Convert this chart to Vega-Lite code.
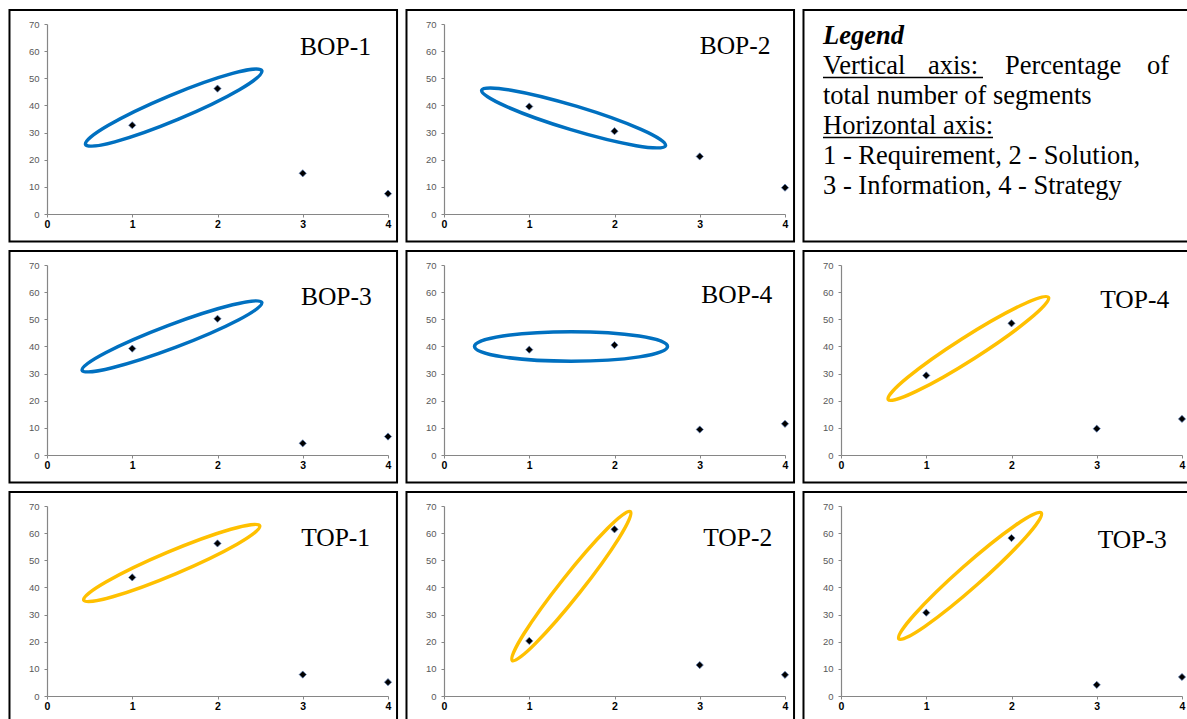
{
  "$schema": "https://vega.github.io/schema/vega-lite/v6.json",
  "padding": {"left": 8, "top": 8, "right": 0, "bottom": 0},
  "background": "white",
  "datasets": {
    "points": [
      {"project": "BOP-1", "category": 1, "percentage": 32.7},
      {"project": "BOP-1", "category": 2, "percentage": 46.2},
      {"project": "BOP-1", "category": 3, "percentage": 15.0},
      {"project": "BOP-1", "category": 4, "percentage": 7.5},
      {"project": "BOP-2", "category": 1, "percentage": 39.6},
      {"project": "BOP-2", "category": 2, "percentage": 30.5},
      {"project": "BOP-2", "category": 3, "percentage": 21.2},
      {"project": "BOP-2", "category": 4, "percentage": 9.7},
      {"project": "BOP-3", "category": 1, "percentage": 39.2},
      {"project": "BOP-3", "category": 2, "percentage": 50.2},
      {"project": "BOP-3", "category": 3, "percentage": 4.3},
      {"project": "BOP-3", "category": 4, "percentage": 6.8},
      {"project": "BOP-4", "category": 1, "percentage": 38.8},
      {"project": "BOP-4", "category": 2, "percentage": 40.5},
      {"project": "BOP-4", "category": 3, "percentage": 9.4},
      {"project": "BOP-4", "category": 4, "percentage": 11.5},
      {"project": "TOP-4", "category": 1, "percentage": 29.3},
      {"project": "TOP-4", "category": 2, "percentage": 48.5},
      {"project": "TOP-4", "category": 3, "percentage": 9.7},
      {"project": "TOP-4", "category": 4, "percentage": 13.3},
      {"project": "TOP-1", "category": 1, "percentage": 43.7},
      {"project": "TOP-1", "category": 2, "percentage": 56.2},
      {"project": "TOP-1", "category": 3, "percentage": 7.9},
      {"project": "TOP-1", "category": 4, "percentage": 5.1},
      {"project": "TOP-2", "category": 1, "percentage": 20.3},
      {"project": "TOP-2", "category": 2, "percentage": 61.4},
      {"project": "TOP-2", "category": 3, "percentage": 11.4},
      {"project": "TOP-2", "category": 4, "percentage": 7.8},
      {"project": "TOP-3", "category": 1, "percentage": 30.7},
      {"project": "TOP-3", "category": 2, "percentage": 58.2},
      {"project": "TOP-3", "category": 3, "percentage": 4.1},
      {"project": "TOP-3", "category": 4, "percentage": 7.0}
    ],
    "panels": [
      {"project": "BOP-1"}, {"project": "BOP-2"}, {"project": "BOP-3"}, {"project": "BOP-4"},
      {"project": "TOP-1"}, {"project": "TOP-2"}, {"project": "TOP-3"}, {"project": "TOP-4"},
      {"project": "Legend"}
    ],
    "legend": [
      {"line": 1, "word": 1, "text": "Legend"},
      {"line": 2, "word": 1, "text": "Vertical"},
      {"line": 2, "word": 2, "text": "axis:"},
      {"line": 2, "word": 3, "text": "Percentage"},
      {"line": 2, "word": 4, "text": "of"},
      {"line": 3, "word": 1, "text": "total number of segments"},
      {"line": 4, "word": 1, "text": "Horizontal axis:"},
      {"line": 5, "word": 1, "text": "1 - Requirement, 2 - Solution,"},
      {"line": 6, "word": 1, "text": "3 - Information, 4 - Strategy"}
    ],
    "underlines": [
      {"line": 2, "from": 1, "to": 5},
      {"line": 4, "from": 1, "to": 6}
    ]
  },
  "spacing": 6,
  "vconcat": [
    {
      "spacing": 6,
      "hconcat": [
        {
          "width": 341, "height": 190,
          "layer": [
            {"data": {"name": "panels"}, "transform": [{"filter": "datum.project === 'BOP-1'"}],
             "mark": {"type": "rect", "fill": "transparent", "stroke": "#000000", "strokeWidth": 2},
             "encoding": {"x": {"datum": -0.44, "type": "quantitative", "scale": {"domain": [0, 4], "nice": false}, "axis": {"values": [0, 1, 2, 3, 4], "format": "d", "title": null}}, "x2": {"datum": 4.106},
                          "y": {"datum": -10.1, "type": "quantitative", "scale": {"domain": [0, 70], "nice": false}, "axis": {"values": [0, 10, 20, 30, 40, 50, 60, 70], "format": "d", "title": null}}, "y2": {"datum": 75.2}}},
            {"data": {"name": "panels"}, "transform": [{"filter": "datum.project === 'BOP-1'"}],
             "mark": {"type": "point", "shape": "M-1,0C-1,-0.0724,-0.5523,-0.131,0,-0.131C0.5523,-0.131,1,-0.0724,1,0C1,0.0724,0.5523,0.131,0,0.131C-0.5523,0.131,-1,0.0724,-1,0Z", "filled": false, "color": "#0070C0", "stroke": "#0070C0", "strokeWidth": 3.5, "opacity": 1, "size": 36481, "angle": 337.3},
             "encoding": {"x": {"datum": 1.486, "type": "quantitative", "scale": {"domain": [0, 4], "nice": false}, "axis": {"values": [0, 1, 2, 3, 4], "format": "d", "title": null}},
                          "y": {"datum": 39.2, "type": "quantitative", "scale": {"domain": [0, 70], "nice": false}, "axis": {"values": [0, 10, 20, 30, 40, 50, 60, 70], "format": "d", "title": null}}}},
            {"data": {"name": "points"}, "transform": [{"filter": "datum.project === 'BOP-1'"}],
             "mark": {"type": "point", "shape": "diamond", "filled": true, "fill": "#000000", "stroke": "#5a7db8", "strokeWidth": 0.7, "size": 52, "opacity": 1},
             "encoding": {"x": {"field": "category", "type": "quantitative", "scale": {"domain": [0, 4], "nice": false}, "axis": {"values": [0, 1, 2, 3, 4], "format": "d", "title": null}},
                          "y": {"field": "percentage", "type": "quantitative", "scale": {"domain": [0, 70], "nice": false}, "axis": {"values": [0, 10, 20, 30, 40, 50, 60, 70], "format": "d", "title": null}}}},
            {"data": {"name": "panels"}, "transform": [{"filter": "datum.project === 'BOP-1'"}],
             "mark": {"type": "text", "align": "right", "baseline": "alphabetic", "font": "Liberation Serif", "fontSize": 25.5, "color": "#000000"},
             "encoding": {"x": {"datum": 3.80, "type": "quantitative", "scale": {"domain": [0, 4], "nice": false}, "axis": {"values": [0, 1, 2, 3, 4], "format": "d", "title": null}},
                          "y": {"datum": 58.6, "type": "quantitative", "scale": {"domain": [0, 70], "nice": false}, "axis": {"values": [0, 10, 20, 30, 40, 50, 60, 70], "format": "d", "title": null}},
                          "text": {"field": "project"}}}
          ]
        },
        {
          "width": 341, "height": 190,
          "layer": [
            {"data": {"name": "panels"}, "transform": [{"filter": "datum.project === 'BOP-2'"}],
             "mark": {"type": "rect", "fill": "transparent", "stroke": "#000000", "strokeWidth": 2},
             "encoding": {"x": {"datum": -0.44, "type": "quantitative", "scale": {"domain": [0, 4], "nice": false}, "axis": {"values": [0, 1, 2, 3, 4], "format": "d", "title": null}}, "x2": {"datum": 4.106},
                          "y": {"datum": -10.1, "type": "quantitative", "scale": {"domain": [0, 70], "nice": false}, "axis": {"values": [0, 10, 20, 30, 40, 50, 60, 70], "format": "d", "title": null}}, "y2": {"datum": 75.2}}},
            {"data": {"name": "panels"}, "transform": [{"filter": "datum.project === 'BOP-2'"}],
             "mark": {"type": "point", "shape": "M-1,0C-1,-0.069,-0.5523,-0.125,0,-0.125C0.5523,-0.125,1,-0.069,1,0C1,0.069,0.5523,0.125,0,0.125C-0.5523,0.125,-1,0.069,-1,0Z", "filled": false, "color": "#0070C0", "stroke": "#0070C0", "strokeWidth": 3.5, "opacity": 1, "size": 36864, "angle": 16.8},
             "encoding": {"x": {"datum": 1.52, "type": "quantitative", "scale": {"domain": [0, 4], "nice": false}, "axis": {"values": [0, 1, 2, 3, 4], "format": "d", "title": null}},
                          "y": {"datum": 35.4, "type": "quantitative", "scale": {"domain": [0, 70], "nice": false}, "axis": {"values": [0, 10, 20, 30, 40, 50, 60, 70], "format": "d", "title": null}}}},
            {"data": {"name": "points"}, "transform": [{"filter": "datum.project === 'BOP-2'"}],
             "mark": {"type": "point", "shape": "diamond", "filled": true, "fill": "#000000", "stroke": "#5a7db8", "strokeWidth": 0.7, "size": 52, "opacity": 1},
             "encoding": {"x": {"field": "category", "type": "quantitative", "scale": {"domain": [0, 4], "nice": false}, "axis": {"values": [0, 1, 2, 3, 4], "format": "d", "title": null}},
                          "y": {"field": "percentage", "type": "quantitative", "scale": {"domain": [0, 70], "nice": false}, "axis": {"values": [0, 10, 20, 30, 40, 50, 60, 70], "format": "d", "title": null}}}},
            {"data": {"name": "panels"}, "transform": [{"filter": "datum.project === 'BOP-2'"}],
             "mark": {"type": "text", "align": "right", "baseline": "alphabetic", "font": "Liberation Serif", "fontSize": 25.5, "color": "#000000"},
             "encoding": {"x": {"datum": 3.83, "type": "quantitative", "scale": {"domain": [0, 4], "nice": false}, "axis": {"values": [0, 1, 2, 3, 4], "format": "d", "title": null}},
                          "y": {"datum": 59.1, "type": "quantitative", "scale": {"domain": [0, 70], "nice": false}, "axis": {"values": [0, 10, 20, 30, 40, 50, 60, 70], "format": "d", "title": null}},
                          "text": {"field": "project"}}}
          ]
        },
        {
          "width": 341, "height": 190,
          "resolve": {"scale": {"x": "independent", "y": "independent"}, "axis": {"x": "independent", "y": "independent"}},
          "layer": [
            {"data": {"name": "panels"}, "transform": [{"filter": "datum.project === 'Legend'"}],
             "mark": {"type": "rect", "fill": "transparent", "stroke": "#000000", "strokeWidth": 2},
             "encoding": {"x": {"datum": -0.44, "type": "quantitative", "scale": {"domain": [0, 4], "nice": false}, "axis": null}, "x2": {"datum": 4.106},
                          "y": {"datum": -10.1, "type": "quantitative", "scale": {"domain": [0, 70], "nice": false}, "axis": null}, "y2": {"datum": 75.2}}},
            {"data": {"name": "legend"},
             "layer": [
               {"transform": [{"filter": "datum.line === 1"}],
                "mark": {"type": "text", "align": "left", "baseline": "alphabetic", "font": "Liberation Serif", "fontSize": 26.5, "fontWeight": "bold", "fontStyle": "italic", "color": "#000000"},
                "encoding": {"x": {"field": "word", "type": "quantitative", "scale": {"domain": [1, 2, 3, 4, 5, 6], "range": [-18, 87, 164, 306, 142, 152], "nice": false, "zero": false}, "axis": null},
                             "y": {"field": "line", "type": "quantitative", "scale": {"domain": [1, 6], "range": [19.5, 169.5], "nice": false, "zero": false}, "axis": null},
                             "text": {"field": "text"}}},
               {"transform": [{"filter": "datum.line > 1"}],
                "mark": {"type": "text", "align": "left", "baseline": "alphabetic", "font": "Liberation Serif", "fontSize": 26.5, "color": "#000000"},
                "encoding": {"x": {"field": "word", "type": "quantitative", "scale": {"domain": [1, 2, 3, 4, 5, 6], "range": [-18, 87, 164, 306, 142, 152], "nice": false, "zero": false}, "axis": null},
                             "y": {"field": "line", "type": "quantitative", "scale": {"domain": [1, 6], "range": [19.5, 169.5], "nice": false, "zero": false}, "axis": null},
                             "text": {"field": "text"}}},
               {"data": {"name": "underlines"},
                "mark": {"type": "rule", "color": "#000000", "strokeWidth": 1.6, "yOffset": 4},
                "encoding": {"x": {"field": "from", "type": "quantitative", "scale": {"domain": [1, 2, 3, 4, 5, 6], "range": [-18, 87, 164, 306, 142, 152], "nice": false, "zero": false}, "axis": null},
                             "x2": {"field": "to"},
                             "y": {"field": "line", "type": "quantitative", "scale": {"domain": [1, 6], "range": [19.5, 169.5], "nice": false, "zero": false}, "axis": null}}}
             ]}
          ]
        }
      ]
    },
    {
      "spacing": 6,
      "hconcat": [
        {
          "width": 341, "height": 190,
          "layer": [
            {"data": {"name": "panels"}, "transform": [{"filter": "datum.project === 'BOP-3'"}],
             "mark": {"type": "rect", "fill": "transparent", "stroke": "#000000", "strokeWidth": 2},
             "encoding": {"x": {"datum": -0.44, "type": "quantitative", "scale": {"domain": [0, 4], "nice": false}, "axis": {"values": [0, 1, 2, 3, 4], "format": "d", "title": null}}, "x2": {"datum": 4.106},
                          "y": {"datum": -10.1, "type": "quantitative", "scale": {"domain": [0, 70], "nice": false}, "axis": {"values": [0, 10, 20, 30, 40, 50, 60, 70], "format": "d", "title": null}}, "y2": {"datum": 75.2}}},
            {"data": {"name": "panels"}, "transform": [{"filter": "datum.project === 'BOP-3'"}],
             "mark": {"type": "point", "shape": "M-1,0C-1,-0.0663,-0.5523,-0.12,0,-0.12C0.5523,-0.12,1,-0.0663,1,0C1,0.0663,0.5523,0.12,0,0.12C-0.5523,0.12,-1,0.0663,-1,0Z", "filled": false, "color": "#0070C0", "stroke": "#0070C0", "strokeWidth": 3.5, "opacity": 1, "size": 36864, "angle": 339.3},
             "encoding": {"x": {"datum": 1.466, "type": "quantitative", "scale": {"domain": [0, 4], "nice": false}, "axis": {"values": [0, 1, 2, 3, 4], "format": "d", "title": null}},
                          "y": {"datum": 43.7, "type": "quantitative", "scale": {"domain": [0, 70], "nice": false}, "axis": {"values": [0, 10, 20, 30, 40, 50, 60, 70], "format": "d", "title": null}}}},
            {"data": {"name": "points"}, "transform": [{"filter": "datum.project === 'BOP-3'"}],
             "mark": {"type": "point", "shape": "diamond", "filled": true, "fill": "#000000", "stroke": "#5a7db8", "strokeWidth": 0.7, "size": 52, "opacity": 1},
             "encoding": {"x": {"field": "category", "type": "quantitative", "scale": {"domain": [0, 4], "nice": false}, "axis": {"values": [0, 1, 2, 3, 4], "format": "d", "title": null}},
                          "y": {"field": "percentage", "type": "quantitative", "scale": {"domain": [0, 70], "nice": false}, "axis": {"values": [0, 10, 20, 30, 40, 50, 60, 70], "format": "d", "title": null}}}},
            {"data": {"name": "panels"}, "transform": [{"filter": "datum.project === 'BOP-3'"}],
             "mark": {"type": "text", "align": "right", "baseline": "alphabetic", "font": "Liberation Serif", "fontSize": 25.5, "color": "#000000"},
             "encoding": {"x": {"datum": 3.81, "type": "quantitative", "scale": {"domain": [0, 4], "nice": false}, "axis": {"values": [0, 1, 2, 3, 4], "format": "d", "title": null}},
                          "y": {"datum": 55.2, "type": "quantitative", "scale": {"domain": [0, 70], "nice": false}, "axis": {"values": [0, 10, 20, 30, 40, 50, 60, 70], "format": "d", "title": null}},
                          "text": {"field": "project"}}}
          ]
        },
        {
          "width": 341, "height": 190,
          "layer": [
            {"data": {"name": "panels"}, "transform": [{"filter": "datum.project === 'BOP-4'"}],
             "mark": {"type": "rect", "fill": "transparent", "stroke": "#000000", "strokeWidth": 2},
             "encoding": {"x": {"datum": -0.44, "type": "quantitative", "scale": {"domain": [0, 4], "nice": false}, "axis": {"values": [0, 1, 2, 3, 4], "format": "d", "title": null}}, "x2": {"datum": 4.106},
                          "y": {"datum": -10.1, "type": "quantitative", "scale": {"domain": [0, 70], "nice": false}, "axis": {"values": [0, 10, 20, 30, 40, 50, 60, 70], "format": "d", "title": null}}, "y2": {"datum": 75.2}}},
            {"data": {"name": "panels"}, "transform": [{"filter": "datum.project === 'BOP-4'"}],
             "mark": {"type": "point", "shape": "M-1,0C-1,-0.0845,-0.5523,-0.153,0,-0.153C0.5523,-0.153,1,-0.0845,1,0C1,0.0845,0.5523,0.153,0,0.153C-0.5523,0.153,-1,0.0845,-1,0Z", "filled": false, "color": "#0070C0", "stroke": "#0070C0", "strokeWidth": 3.5, "opacity": 1, "size": 37249, "angle": 0},
             "encoding": {"x": {"datum": 1.49, "type": "quantitative", "scale": {"domain": [0, 4], "nice": false}, "axis": {"values": [0, 1, 2, 3, 4], "format": "d", "title": null}},
                          "y": {"datum": 40.0, "type": "quantitative", "scale": {"domain": [0, 70], "nice": false}, "axis": {"values": [0, 10, 20, 30, 40, 50, 60, 70], "format": "d", "title": null}}}},
            {"data": {"name": "points"}, "transform": [{"filter": "datum.project === 'BOP-4'"}],
             "mark": {"type": "point", "shape": "diamond", "filled": true, "fill": "#000000", "stroke": "#5a7db8", "strokeWidth": 0.7, "size": 52, "opacity": 1},
             "encoding": {"x": {"field": "category", "type": "quantitative", "scale": {"domain": [0, 4], "nice": false}, "axis": {"values": [0, 1, 2, 3, 4], "format": "d", "title": null}},
                          "y": {"field": "percentage", "type": "quantitative", "scale": {"domain": [0, 70], "nice": false}, "axis": {"values": [0, 10, 20, 30, 40, 50, 60, 70], "format": "d", "title": null}}}},
            {"data": {"name": "panels"}, "transform": [{"filter": "datum.project === 'BOP-4'"}],
             "mark": {"type": "text", "align": "right", "baseline": "alphabetic", "font": "Liberation Serif", "fontSize": 25.5, "color": "#000000"},
             "encoding": {"x": {"datum": 3.85, "type": "quantitative", "scale": {"domain": [0, 4], "nice": false}, "axis": {"values": [0, 1, 2, 3, 4], "format": "d", "title": null}},
                          "y": {"datum": 56.0, "type": "quantitative", "scale": {"domain": [0, 70], "nice": false}, "axis": {"values": [0, 10, 20, 30, 40, 50, 60, 70], "format": "d", "title": null}},
                          "text": {"field": "project"}}}
          ]
        },
        {
          "width": 341, "height": 190,
          "layer": [
            {"data": {"name": "panels"}, "transform": [{"filter": "datum.project === 'TOP-4'"}],
             "mark": {"type": "rect", "fill": "transparent", "stroke": "#000000", "strokeWidth": 2},
             "encoding": {"x": {"datum": -0.44, "type": "quantitative", "scale": {"domain": [0, 4], "nice": false}, "axis": {"values": [0, 1, 2, 3, 4], "format": "d", "title": null}}, "x2": {"datum": 4.106},
                          "y": {"datum": -10.1, "type": "quantitative", "scale": {"domain": [0, 70], "nice": false}, "axis": {"values": [0, 10, 20, 30, 40, 50, 60, 70], "format": "d", "title": null}}, "y2": {"datum": 75.2}}},
            {"data": {"name": "panels"}, "transform": [{"filter": "datum.project === 'TOP-4'"}],
             "mark": {"type": "point", "shape": "M-1,0C-1,-0.0668,-0.5523,-0.121,0,-0.121C0.5523,-0.121,1,-0.0668,1,0C1,0.0668,0.5523,0.121,0,0.121C-0.5523,0.121,-1,0.0668,-1,0Z", "filled": false, "color": "#FFC000", "stroke": "#FFC000", "strokeWidth": 3.5, "opacity": 1, "size": 36100, "angle": 327.5},
             "encoding": {"x": {"datum": 1.494, "type": "quantitative", "scale": {"domain": [0, 4], "nice": false}, "axis": {"values": [0, 1, 2, 3, 4], "format": "d", "title": null}},
                          "y": {"datum": 39.25, "type": "quantitative", "scale": {"domain": [0, 70], "nice": false}, "axis": {"values": [0, 10, 20, 30, 40, 50, 60, 70], "format": "d", "title": null}}}},
            {"data": {"name": "points"}, "transform": [{"filter": "datum.project === 'TOP-4'"}],
             "mark": {"type": "point", "shape": "diamond", "filled": true, "fill": "#000000", "stroke": "#5a7db8", "strokeWidth": 0.7, "size": 52, "opacity": 1},
             "encoding": {"x": {"field": "category", "type": "quantitative", "scale": {"domain": [0, 4], "nice": false}, "axis": {"values": [0, 1, 2, 3, 4], "format": "d", "title": null}},
                          "y": {"field": "percentage", "type": "quantitative", "scale": {"domain": [0, 70], "nice": false}, "axis": {"values": [0, 10, 20, 30, 40, 50, 60, 70], "format": "d", "title": null}}}},
            {"data": {"name": "panels"}, "transform": [{"filter": "datum.project === 'TOP-4'"}],
             "mark": {"type": "text", "align": "right", "baseline": "alphabetic", "font": "Liberation Serif", "fontSize": 25.5, "color": "#000000"},
             "encoding": {"x": {"datum": 3.85, "type": "quantitative", "scale": {"domain": [0, 4], "nice": false}, "axis": {"values": [0, 1, 2, 3, 4], "format": "d", "title": null}},
                          "y": {"datum": 54.0, "type": "quantitative", "scale": {"domain": [0, 70], "nice": false}, "axis": {"values": [0, 10, 20, 30, 40, 50, 60, 70], "format": "d", "title": null}},
                          "text": {"field": "project"}}}
          ]
        }
      ]
    },
    {
      "spacing": 6,
      "hconcat": [
        {
          "width": 341, "height": 190,
          "layer": [
            {"data": {"name": "panels"}, "transform": [{"filter": "datum.project === 'TOP-1'"}],
             "mark": {"type": "rect", "fill": "transparent", "stroke": "#000000", "strokeWidth": 2},
             "encoding": {"x": {"datum": -0.44, "type": "quantitative", "scale": {"domain": [0, 4], "nice": false}, "axis": {"values": [0, 1, 2, 3, 4], "format": "d", "title": null}}, "x2": {"datum": 4.106},
                          "y": {"datum": -10.1, "type": "quantitative", "scale": {"domain": [0, 70], "nice": false}, "axis": {"values": [0, 10, 20, 30, 40, 50, 60, 70], "format": "d", "title": null}}, "y2": {"datum": 75.2}}},
            {"data": {"name": "panels"}, "transform": [{"filter": "datum.project === 'TOP-1'"}],
             "mark": {"type": "point", "shape": "M-1,0C-1,-0.0663,-0.5523,-0.12,0,-0.12C0.5523,-0.12,1,-0.0663,1,0C1,0.0663,0.5523,0.12,0,0.12C-0.5523,0.12,-1,0.0663,-1,0Z", "filled": false, "color": "#FFC000", "stroke": "#FFC000", "strokeWidth": 3.5, "opacity": 1, "size": 36481, "angle": 337.1},
             "encoding": {"x": {"datum": 1.463, "type": "quantitative", "scale": {"domain": [0, 4], "nice": false}, "axis": {"values": [0, 1, 2, 3, 4], "format": "d", "title": null}},
                          "y": {"datum": 49.0, "type": "quantitative", "scale": {"domain": [0, 70], "nice": false}, "axis": {"values": [0, 10, 20, 30, 40, 50, 60, 70], "format": "d", "title": null}}}},
            {"data": {"name": "points"}, "transform": [{"filter": "datum.project === 'TOP-1'"}],
             "mark": {"type": "point", "shape": "diamond", "filled": true, "fill": "#000000", "stroke": "#5a7db8", "strokeWidth": 0.7, "size": 52, "opacity": 1},
             "encoding": {"x": {"field": "category", "type": "quantitative", "scale": {"domain": [0, 4], "nice": false}, "axis": {"values": [0, 1, 2, 3, 4], "format": "d", "title": null}},
                          "y": {"field": "percentage", "type": "quantitative", "scale": {"domain": [0, 70], "nice": false}, "axis": {"values": [0, 10, 20, 30, 40, 50, 60, 70], "format": "d", "title": null}}}},
            {"data": {"name": "panels"}, "transform": [{"filter": "datum.project === 'TOP-1'"}],
             "mark": {"type": "text", "align": "right", "baseline": "alphabetic", "font": "Liberation Serif", "fontSize": 25.5, "color": "#000000"},
             "encoding": {"x": {"datum": 3.79, "type": "quantitative", "scale": {"domain": [0, 4], "nice": false}, "axis": {"values": [0, 1, 2, 3, 4], "format": "d", "title": null}},
                          "y": {"datum": 55.3, "type": "quantitative", "scale": {"domain": [0, 70], "nice": false}, "axis": {"values": [0, 10, 20, 30, 40, 50, 60, 70], "format": "d", "title": null}},
                          "text": {"field": "project"}}}
          ]
        },
        {
          "width": 341, "height": 190,
          "layer": [
            {"data": {"name": "panels"}, "transform": [{"filter": "datum.project === 'TOP-2'"}],
             "mark": {"type": "rect", "fill": "transparent", "stroke": "#000000", "strokeWidth": 2},
             "encoding": {"x": {"datum": -0.44, "type": "quantitative", "scale": {"domain": [0, 4], "nice": false}, "axis": {"values": [0, 1, 2, 3, 4], "format": "d", "title": null}}, "x2": {"datum": 4.106},
                          "y": {"datum": -10.1, "type": "quantitative", "scale": {"domain": [0, 70], "nice": false}, "axis": {"values": [0, 10, 20, 30, 40, 50, 60, 70], "format": "d", "title": null}}, "y2": {"datum": 75.2}}},
            {"data": {"name": "panels"}, "transform": [{"filter": "datum.project === 'TOP-2'"}],
             "mark": {"type": "point", "shape": "M-1,0C-1,-0.0619,-0.5523,-0.112,0,-0.112C0.5523,-0.112,1,-0.0619,1,0C1,0.0619,0.5523,0.112,0,0.112C-0.5523,0.112,-1,0.0619,-1,0Z", "filled": false, "color": "#FFC000", "stroke": "#FFC000", "strokeWidth": 3.5, "opacity": 1, "size": 36100, "angle": 308.4},
             "encoding": {"x": {"datum": 1.494, "type": "quantitative", "scale": {"domain": [0, 4], "nice": false}, "axis": {"values": [0, 1, 2, 3, 4], "format": "d", "title": null}},
                          "y": {"datum": 40.5, "type": "quantitative", "scale": {"domain": [0, 70], "nice": false}, "axis": {"values": [0, 10, 20, 30, 40, 50, 60, 70], "format": "d", "title": null}}}},
            {"data": {"name": "points"}, "transform": [{"filter": "datum.project === 'TOP-2'"}],
             "mark": {"type": "point", "shape": "diamond", "filled": true, "fill": "#000000", "stroke": "#5a7db8", "strokeWidth": 0.7, "size": 52, "opacity": 1},
             "encoding": {"x": {"field": "category", "type": "quantitative", "scale": {"domain": [0, 4], "nice": false}, "axis": {"values": [0, 1, 2, 3, 4], "format": "d", "title": null}},
                          "y": {"field": "percentage", "type": "quantitative", "scale": {"domain": [0, 70], "nice": false}, "axis": {"values": [0, 10, 20, 30, 40, 50, 60, 70], "format": "d", "title": null}}}},
            {"data": {"name": "panels"}, "transform": [{"filter": "datum.project === 'TOP-2'"}],
             "mark": {"type": "text", "align": "right", "baseline": "alphabetic", "font": "Liberation Serif", "fontSize": 25.5, "color": "#000000"},
             "encoding": {"x": {"datum": 3.85, "type": "quantitative", "scale": {"domain": [0, 4], "nice": false}, "axis": {"values": [0, 1, 2, 3, 4], "format": "d", "title": null}},
                          "y": {"datum": 55.2, "type": "quantitative", "scale": {"domain": [0, 70], "nice": false}, "axis": {"values": [0, 10, 20, 30, 40, 50, 60, 70], "format": "d", "title": null}},
                          "text": {"field": "project"}}}
          ]
        },
        {
          "width": 341, "height": 190,
          "layer": [
            {"data": {"name": "panels"}, "transform": [{"filter": "datum.project === 'TOP-3'"}],
             "mark": {"type": "rect", "fill": "transparent", "stroke": "#000000", "strokeWidth": 2},
             "encoding": {"x": {"datum": -0.44, "type": "quantitative", "scale": {"domain": [0, 4], "nice": false}, "axis": {"values": [0, 1, 2, 3, 4], "format": "d", "title": null}}, "x2": {"datum": 4.106},
                          "y": {"datum": -10.1, "type": "quantitative", "scale": {"domain": [0, 70], "nice": false}, "axis": {"values": [0, 10, 20, 30, 40, 50, 60, 70], "format": "d", "title": null}}, "y2": {"datum": 75.2}}},
            {"data": {"name": "panels"}, "transform": [{"filter": "datum.project === 'TOP-3'"}],
             "mark": {"type": "point", "shape": "M-1,0C-1,-0.0652,-0.5523,-0.118,0,-0.118C0.5523,-0.118,1,-0.0652,1,0C1,0.0652,0.5523,0.118,0,0.118C-0.5523,0.118,-1,0.0652,-1,0Z", "filled": false, "color": "#FFC000", "stroke": "#FFC000", "strokeWidth": 3.5, "opacity": 1, "size": 36100, "angle": 318.5},
             "encoding": {"x": {"datum": 1.514, "type": "quantitative", "scale": {"domain": [0, 4], "nice": false}, "axis": {"values": [0, 1, 2, 3, 4], "format": "d", "title": null}},
                          "y": {"datum": 44.25, "type": "quantitative", "scale": {"domain": [0, 70], "nice": false}, "axis": {"values": [0, 10, 20, 30, 40, 50, 60, 70], "format": "d", "title": null}}}},
            {"data": {"name": "points"}, "transform": [{"filter": "datum.project === 'TOP-3'"}],
             "mark": {"type": "point", "shape": "diamond", "filled": true, "fill": "#000000", "stroke": "#5a7db8", "strokeWidth": 0.7, "size": 52, "opacity": 1},
             "encoding": {"x": {"field": "category", "type": "quantitative", "scale": {"domain": [0, 4], "nice": false}, "axis": {"values": [0, 1, 2, 3, 4], "format": "d", "title": null}},
                          "y": {"field": "percentage", "type": "quantitative", "scale": {"domain": [0, 70], "nice": false}, "axis": {"values": [0, 10, 20, 30, 40, 50, 60, 70], "format": "d", "title": null}}}},
            {"data": {"name": "panels"}, "transform": [{"filter": "datum.project === 'TOP-3'"}],
             "mark": {"type": "text", "align": "right", "baseline": "alphabetic", "font": "Liberation Serif", "fontSize": 25.5, "color": "#000000"},
             "encoding": {"x": {"datum": 3.82, "type": "quantitative", "scale": {"domain": [0, 4], "nice": false}, "axis": {"values": [0, 1, 2, 3, 4], "format": "d", "title": null}},
                          "y": {"datum": 54.4, "type": "quantitative", "scale": {"domain": [0, 70], "nice": false}, "axis": {"values": [0, 10, 20, 30, 40, 50, 60, 70], "format": "d", "title": null}},
                          "text": {"field": "project"}}}
          ]
        }
      ]
    }
  ],
  "config": {
    "view": {"stroke": null},
    "axis": {"grid": false, "domainColor": "#868686", "tickColor": "#868686", "tickSize": 3, "domainWidth": 1.2, "tickWidth": 1},
    "axisX": {"labelFont": "Liberation Sans", "labelFontSize": 10.5, "labelFontWeight": "bold", "labelColor": "#000000", "labelPadding": 2, "labelFlush": false},
    "axisY": {"labelFont": "Liberation Sans", "labelFontSize": 9.5, "labelColor": "#595959", "labelPadding": 5}
  }
}
